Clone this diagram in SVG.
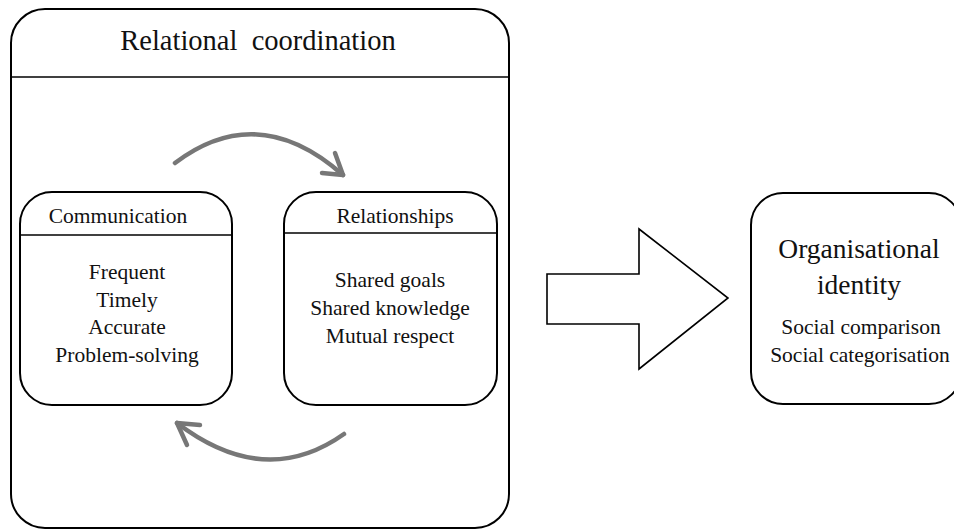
<svg xmlns="http://www.w3.org/2000/svg" width="954" height="530" viewBox="0 0 954 530">
<style>
.box{fill:#fff;stroke:#000;stroke-width:2}
.ln{stroke:#000;stroke-width:1.6}
.t{font-family:'Liberation Serif','Times New Roman',Tinos,'DejaVu Serif',serif;fill:#111;text-anchor:middle}
.b{font-size:21.5px}
.cur{fill:none;stroke:#777;stroke-width:4.5;stroke-linecap:round;stroke-linejoin:round}
</style>
<rect width="954" height="530" fill="#fff"/>
<g id="relational-coordination">
<rect class="box" x="11" y="9" width="498" height="519" rx="34"/>
<line class="ln" x1="11" y1="77" x2="509" y2="77"/>
<text class="t" x="258" y="50" font-size="28.5" xml:space="preserve">Relational  coordination</text>
</g>
<g id="communication">
<rect class="box" x="20" y="192" width="212" height="213" rx="32"/>
<line class="ln" x1="20" y1="235" x2="232" y2="235"/>
<text class="t b" x="118" y="223">Communication</text>
<text class="t b" x="127" y="279">Frequent</text>
<text class="t b" x="127" y="306.5">Timely</text>
<text class="t b" x="127" y="334">Accurate</text>
<text class="t b" x="127" y="361.5">Problem-solving</text>
</g>
<g id="relationships">
<rect class="box" x="284" y="192" width="213" height="213" rx="32"/>
<line class="ln" x1="284" y1="233" x2="497" y2="233"/>
<text class="t b" x="395" y="223">Relationships</text>
<text class="t b" x="390" y="287">Shared goals</text>
<text class="t b" x="390" y="315">Shared knowledge</text>
<text class="t b" x="390" y="343">Mutual respect</text>
</g>
<g id="organisational-identity">
<rect class="box" x="751" y="193" width="210" height="211" rx="32"/>
<text class="t" x="859" y="258" font-size="27.5">Organisational</text>
<text class="t" x="859" y="294" font-size="27.5">identity</text>
<text class="t b" x="861" y="334">Social comparison</text>
<text class="t b" x="860" y="362">Social categorisation</text>
</g>
<g id="connectors">
<path class="cur" d="M175,163 Q258,100 343,175"/>
<path class="cur" d="M322,173 L343,175 L335,153"/>
<path class="cur" d="M344,434 Q265,490 177,423"/>
<path class="cur" d="M200,425 L177,423 L187,445"/>
<polygon points="547,274 639,274 639,229 728,298 639,369 639,324 547,324" fill="#fff" stroke="#000" stroke-width="1.6" stroke-linejoin="miter"/>
</g>
</svg>
